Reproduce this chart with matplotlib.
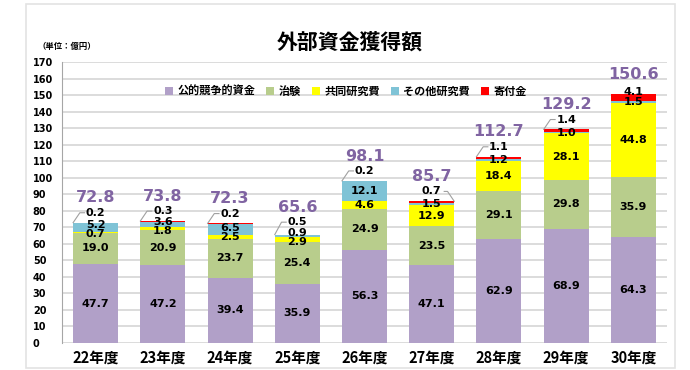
import matplotlib
matplotlib.use("Agg")
import matplotlib.pyplot as plt
from matplotlib.patches import Rectangle

plt.rcParams['font.family'] = ['Noto Sans CJK JP', 'DejaVu Sans']

years = ["22年度", "23年度", "24年度", "25年度", "26年度", "27年度", "28年度", "29年度", "30年度"]
series_names = ["公的競争的資金", "治験", "共同研究費", "その他研究費", "寄付金"]
public_funds = [47.7, 47.2, 39.4, 35.9, 56.3, 47.1, 62.9, 68.9, 64.3]
clinical = [19.0, 20.9, 23.7, 25.4, 24.9, 23.5, 29.1, 29.8, 35.9]
joint_research = [0.7, 1.8, 2.5, 2.9, 4.6, 12.9, 18.4, 28.1, 44.8]
other_research = [5.2, 3.6, 6.5, 0.9, 12.1, 1.5, 1.2, 1.0, 1.5]
donations = [0.2, 0.3, 0.2, 0.5, 0.2, 0.7, 1.1, 1.4, 4.1]
totals = [72.8, 73.8, 72.3, 65.6, 98.1, 85.7, 112.7, 129.2, 150.6]
leader_side = ["left", "left", "left", "left", "left", "right", "left", "left", "left"]

colors = ["#B1A0C8", "#B8CD8C", "#FFFF00", "#7FC3D6", "#FF0000"]
series = [public_funds, clinical, joint_research, other_research, donations]

fig = plt.figure(figsize=(6.9, 3.7), dpi=100)
ax = fig.add_axes([0.0899, 0.073, 0.8768, 0.7594])

# outer frame
fig.patches.append(Rectangle((26 / 690, 2 / 370), 649 / 690, 364 / 370,
                             transform=fig.transFigure, fill=False,
                             edgecolor="#E3E3E3", linewidth=1.2))

x = list(range(len(years)))
width = 0.67
bottoms = [0.0] * len(years)
for vals, col, name in zip(series, colors, series_names):
    ax.bar(x, vals, width, bottom=bottoms, color=col, label=name, zorder=2)
    bottoms = [b + v for b, v in zip(bottoms, vals)]

lbl = dict(ha="center", va="center", fontsize=8, fontweight="bold",
           family=["DejaVu Sans"], zorder=5)

for i in range(len(years)):
    base = 0.0
    centers = []
    for vals in series:
        centers.append(base + vals[i] / 2)
        base += vals[i]
    top = base
    # big segments
    ax.text(i, centers[0], f"{public_funds[i]:.1f}", **lbl)
    ax.text(i, centers[1], f"{clinical[i]:.1f}", **lbl)
    # yellow / cyan labels, spread apart when close
    yy, yc = centers[2], centers[3]
    if yc - yy < 5:
        mid = (yy + yc) / 2 + 0.3
        yy, yc = mid - 2.6, mid + 2.6
    ax.text(i, yy, f"{joint_research[i]:.1f}", **lbl)
    ax.text(i, yc, f"{other_research[i]:.1f}", **lbl)
    # donations
    if donations[i] >= 3:
        yr = max(centers[4], yc + 6)
        ax.text(i, yr, f"{donations[i]:.1f}", **lbl)
        ytot = top + 12
    else:
        yr = max(top + 6, yc + 6.5)
        ax.text(i, yr, f"{donations[i]:.1f}", **lbl)
        if leader_side[i] == "left":
            x0 = i - width / 2
            ax.plot([x0, x0 + 0.1, x0 + 0.17], [top, yr, yr],
                    color="#A0A0A0", lw=0.8, zorder=4)
        else:
            x0 = i + width / 2
            ax.plot([x0, x0 - 0.1, x0 - 0.15], [top, yr, yr],
                    color="#A0A0A0", lw=0.8, zorder=4)
        ytot = yr + 9
    ax.text(i, ytot, f"{totals[i]:.1f}", ha="center", va="center",
            fontsize=11.5, fontweight="bold", color="#8064A2",
            family=["DejaVu Sans"], zorder=5)

ax.set_xlim(-0.5, 8.5)
ax.set_ylim(0, 170)
ax.set_yticks(range(0, 171, 10))
ax.set_xticks(x)
ax.set_xticklabels(years, fontsize=10.5, fontweight="bold")
for t in ax.get_yticklabels():
    t.set_fontsize(7)
    t.set_fontweight("bold")
    t.set_family(["DejaVu Sans"])
    t.set_horizontalalignment("left")
ax.tick_params(axis="both", length=0)
ax.tick_params(axis="x", pad=5)
ax.yaxis.set_tick_params(pad=21)
ax.grid(axis="y", color="#D9D9D9", linewidth=1.3, zorder=0)
ax.set_axisbelow(True)
for s in ["top", "right", "bottom"]:
    ax.spines[s].set_visible(False)
ax.spines["left"].set_color("#A6A6A6")

leg = ax.legend(loc="center", bbox_to_anchor=(0.469, 0.895), ncol=5,
                frameon=False, fontsize=8, handlelength=0.7, handleheight=0.7,
                handletextpad=0.4, columnspacing=1.0)
for t in leg.get_texts():
    t.set_fontweight("bold")

fig.text(0.507, 0.887, "外部資金獲得額", ha="center", va="center",
         fontsize=15, fontweight="bold")
fig.text(0.055, 0.873, "（単位：億円）", ha="left", va="center", fontsize=6,
         fontweight="bold")

fig.savefig("out.png", dpi=100)
